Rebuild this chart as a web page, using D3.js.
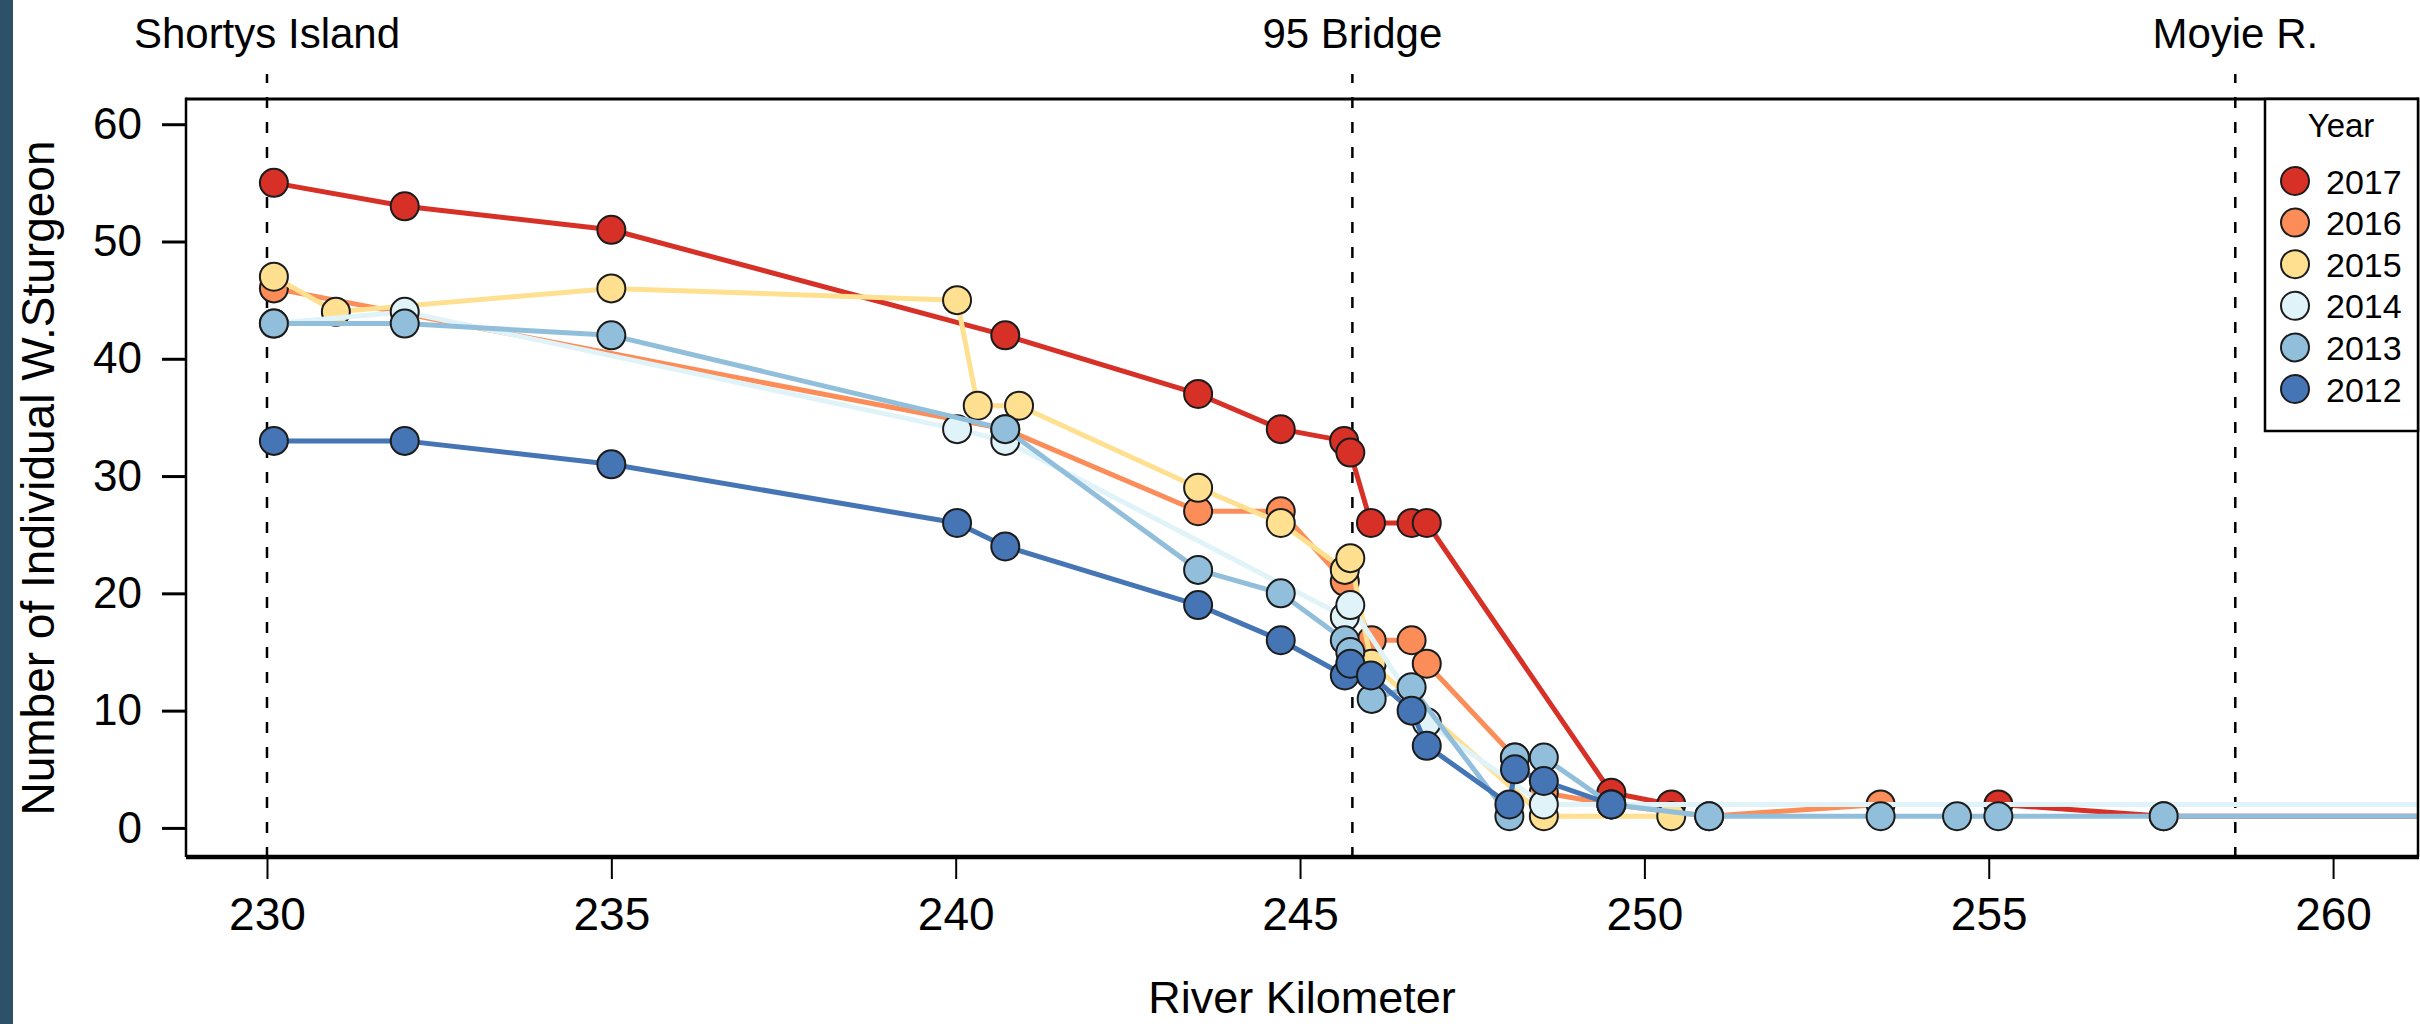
<!DOCTYPE html>
<html>
<head>
<meta charset="utf-8">
<script src="https://cdn.jsdelivr.net/npm/d3@7"></script>
<style>
  body { margin: 0; background: #fff; }
  text { font-family: "Liberation Sans", Arial, sans-serif; fill: #000; }
</style>
</head>
<body>
<div id="chart"></div>
<script>
// ---- data ----
const years = ["2017", "2016", "2015", "2014", "2013", "2012"]
const colors = ["#d73027", "#fc8d59", "#fee090", "#e0f3f8", "#91bfdb", "#4575b4"]

const km2017 = [230.1, 232.0, 235.0, 240.72, 243.52, 244.72, 245.64, 245.73, 246.03, 246.62, 246.84, 249.52, 250.39, 255.14, 257.54, 263]
const n2017  = [55, 53, 51, 42, 37, 34, 33, 32, 26, 26, 26, 3, 2, 2, 1, 1]

const km2016 = [230.1, 240.72, 243.52, 244.72, 245.65, 246.04, 246.62, 246.84, 248.12, 248.54, 249.52, 250.94, 253.43, 263]
const n2016  = [46, 34, 27, 27, 21, 16, 16, 14, 6, 3, 2, 1, 2, 2]

const km2015 = [230.1, 231.0, 235.0, 240.02, 240.32, 240.92, 243.52, 244.72, 245.65, 245.73, 246.04, 248.54, 250.39]
const n2015  = [47, 44, 46, 45, 36, 36, 29, 26, 22, 23, 14, 1, 1]

const km2014 = [230.1, 232.0, 240.02, 240.72, 245.65, 245.73, 246.84, 248.54, 263]
const n2014  = [43, 44, 34, 33, 18, 19, 9, 2, 2]

const km2013 = [230.1, 232.0, 235.0, 240.72, 243.52, 244.72, 245.65, 245.73, 246.04, 246.62, 248.04, 248.12, 248.54, 249.52, 250.94, 253.43, 254.54, 255.14, 257.54, 263]
const n2013  = [43, 43, 42, 34, 22, 20, 16, 15, 11, 12, 1, 6, 6, 2, 1, 1, 1, 1, 1, 1]

const km2012 = [230.1, 232.0, 235.0, 240.02, 240.72, 243.52, 244.72, 245.65, 245.73, 246.03, 246.62, 246.84, 248.04, 248.12, 248.54, 249.52]
const n2012  = [33, 33, 31, 26, 24, 19, 16, 13, 14, 13, 10, 7, 2, 5, 4, 2]

const kmByYear = [km2017, km2016, km2015, km2014, km2013, km2012]
const nByYear = [n2017, n2016, n2015, n2014, n2013, n2012]

const xTicks = [230, 235, 240, 245, 250, 255, 260]
const yTicks = [0, 10, 20, 30, 40, 50, 60]
const siteNames = ["Shortys Island", "95 Bridge", "Moyie R."]
const siteKm = [230, 245.76, 258.58]

// ---- layout ----
const W = 2420, H = 1024
const plot = {left: 186, right: 2418, top: 99, bottom: 857}

const svg = d3.select("#chart").append("svg")
  .attr("width", W)
  .attr("height", H)

// dark strip on the left edge
svg.append("rect")
  .attr("x", 0).attr("y", 0)
  .attr("width", 13).attr("height", H)
  .attr("fill", "#2d5169")

const x = d3.scaleLinear()
  .domain([228.824, 261.233])
  .range([plot.left, plot.right])

const y = d3.scaleLinear()
  .domain([-2.48, 62.15])
  .range([plot.bottom, plot.top])

svg.append("clipPath").attr("id", "plotclip")
  .append("rect")
  .attr("x", plot.left).attr("y", plot.top)
  .attr("width", plot.right - plot.left)
  .attr("height", plot.bottom - plot.top)

// x axis
const xAxis = svg.append("g")
  .attr("transform", `translate(0,${plot.bottom})`)
  .call(d3.axisBottom(x).tickValues(xTicks).tickSize(22).tickSizeOuter(0).tickPadding(18))
xAxis.select(".domain").remove()
xAxis.selectAll(".tick line").attr("stroke", "#000").attr("stroke-width", 2)
xAxis.selectAll("text").attr("font-size", "46px")
  .attr("font-family", '"Liberation Sans", Arial, sans-serif')

// y axis
const yAxis = svg.append("g")
  .attr("transform", `translate(${plot.left},0)`)
  .call(d3.axisLeft(y).tickValues(yTicks).tickSize(24).tickSizeOuter(0).tickPadding(20))
yAxis.select(".domain").remove()
yAxis.selectAll(".tick line").attr("stroke", "#000").attr("stroke-width", 3)
yAxis.selectAll("text").attr("font-size", "44px")
  .attr("font-family", '"Liberation Sans", Arial, sans-serif')

// site reference lines and names
siteKm.forEach((k, i) => {
  svg.append("line")
    .attr("x1", x(k)).attr("x2", x(k))
    .attr("y1", 74).attr("y2", plot.bottom)
    .attr("stroke", "#000")
    .attr("stroke-width", 2.5)
    .attr("stroke-dasharray", "11,14")
    .attr("stroke-dashoffset", 2)
  svg.append("text")
    .attr("x", x(k)).attr("y", 48)
    .attr("text-anchor", "middle")
    .attr("font-size", "42px")
    .text(siteNames[i])
})

// series: line then points, in legend order (2012 ends up on top)
const g = svg.append("g").attr("clip-path", "url(#plotclip)")
const line = d3.line().x(d => x(d.km)).y(d => y(d.n))

years.forEach((yr, i) => {
  const pts = kmByYear[i].map((k, j) => ({km: k, n: nByYear[i][j]}))
  g.append("path")
    .datum(pts)
    .attr("fill", "none")
    .attr("stroke", colors[i])
    .attr("stroke-width", 5)
    .attr("stroke-linejoin", "round")
    .attr("d", line)
  g.selectAll(".pt" + yr)
    .data(pts)
    .enter().append("circle")
    .attr("cx", d => x(d.km))
    .attr("cy", d => y(d.n))
    .attr("r", 14)
    .attr("fill", colors[i])
    .attr("stroke", "#1c1c1c")
    .attr("stroke-width", 2)
})

// frame
svg.append("line").attr("x1", plot.left).attr("x2", plot.right)
  .attr("y1", plot.top).attr("y2", plot.top)
  .attr("stroke", "#000").attr("stroke-width", 3)
svg.append("line").attr("x1", plot.left).attr("x2", plot.right + 1)
  .attr("y1", plot.bottom).attr("y2", plot.bottom)
  .attr("stroke", "#000").attr("stroke-width", 4.5)
svg.append("line").attr("x1", plot.left).attr("x2", plot.left)
  .attr("y1", plot.top - 1.5).attr("y2", plot.bottom)
  .attr("stroke", "#000").attr("stroke-width", 2.5)
svg.append("line").attr("x1", plot.right).attr("x2", plot.right)
  .attr("y1", plot.top - 1.5).attr("y2", plot.bottom)
  .attr("stroke", "#000").attr("stroke-width", 2.5)

// legend
const leg = svg.append("g")
leg.append("rect")
  .attr("x", 2265).attr("y", plot.top)
  .attr("width", plot.right - 2265).attr("height", 332)
  .attr("fill", "#fff").attr("stroke", "#000").attr("stroke-width", 2.5)
leg.append("text")
  .attr("x", 2341).attr("y", 137)
  .attr("text-anchor", "middle")
  .attr("font-size", "33px")
  .text("Year")
years.forEach((yr, i) => {
  const cy = 181 + i * 41.6
  leg.append("circle")
    .attr("cx", 2295).attr("cy", cy).attr("r", 14)
    .attr("fill", colors[i])
    .attr("stroke", "#1c1c1c").attr("stroke-width", 2)
  leg.append("text")
    .attr("x", 2326).attr("y", cy + 12.5)
    .attr("font-size", "34px")
    .text(yr)
})

// axis titles
svg.append("text")
  .attr("x", (plot.left + plot.right) / 2).attr("y", 1013)
  .attr("text-anchor", "middle")
  .attr("font-size", "45px")
  .text("River Kilometer")
svg.append("text")
  .attr("transform", `translate(54,${(plot.top + plot.bottom) / 2}) rotate(-90)`)
  .attr("text-anchor", "middle")
  .attr("font-size", "46px")
  .text("Number of Individual W.Sturgeon")
</script>
</body>
</html>
